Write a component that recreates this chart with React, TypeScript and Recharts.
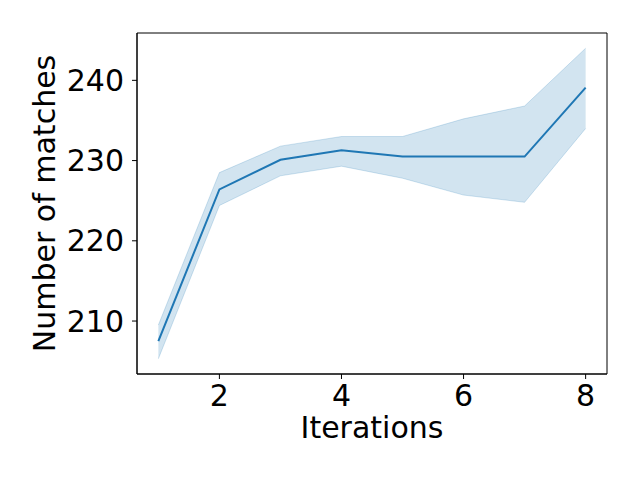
import { ComposedChart, Area, Line, XAxis, YAxis, Label, ReferenceArea } from 'recharts'

const iterations = [1, 2, 3, 4, 5, 6, 7, 8]
const meanMatches = [207.5, 226.4, 230.1, 231.3, 230.5, 230.5, 230.5, 239.1]
const lowerBand = [205.3, 224.4, 228.1, 229.3, 227.8, 225.7, 224.8, 234.0]
const upperBand = [209.5, 228.5, 231.8, 233.0, 233.0, 235.2, 236.8, 244.0]
const xTicks = [2, 4, 6, 8]
const yTicks = [210, 220, 230, 240]

const X_DOMAIN: [number, number] = [0.65, 8.35]
const Y_DOMAIN: [number, number] = [203.4, 245.9]

const BLUE = '#1f77b4'
const FONT = 'DejaVu Sans'
const FS = 30
const tickStyle = { fontSize: FS, fill: '#000', fontFamily: FONT }

const data = iterations.map((it, i) => ({
  it,
  mean: meanMatches[i],
  band: [lowerBand[i], upperBand[i]],
}))

function YTitle({ viewBox }: any) {
  const x = 55
  const cy = viewBox.y + viewBox.height / 2
  return (
    <text
      x={x}
      y={cy}
      transform={`rotate(-90 ${x} ${cy})`}
      textAnchor="middle"
      fontSize={FS}
      fontFamily={FONT}
      fill="#000"
    >
      Number of matches
    </text>
  )
}

export default function App() {
  return (
    <div style={{ position: 'absolute', left: 0, top: 0, width: 640, height: 480, background: '#fff' }}>
      <ComposedChart width={640} height={480} data={data} margin={{ top: 33, right: 33, bottom: 63, left: 57 }}>
        <XAxis
          dataKey="it"
          type="number"
          domain={X_DOMAIN}
          ticks={xTicks}
          allowDataOverflow
          tick={tickStyle}
          tickSize={5}
          tickMargin={6}
          height={43}
          stroke="#000"
        >
          <Label value="Iterations" position="bottom" offset={0} fontSize={FS} fontFamily={FONT} fill="#000" />
        </XAxis>
        <YAxis
          type="number"
          domain={Y_DOMAIN}
          ticks={yTicks}
          allowDataOverflow
          tick={tickStyle}
          tickSize={5}
          tickMargin={8}
          width={80}
          stroke="#000"
        >
          <Label content={<YTitle />} />
        </YAxis>
        <Area
          dataKey="band"
          type="linear"
          fill={BLUE}
          fillOpacity={0.2}
          stroke={BLUE}
          strokeOpacity={0.2}
          strokeWidth={1}
          isAnimationActive={false}
          activeDot={false}
        />
        <Line
          dataKey="mean"
          type="linear"
          stroke={BLUE}
          strokeWidth={2}
          dot={false}
          activeDot={false}
          isAnimationActive={false}
        />
        <ReferenceArea
          x1={X_DOMAIN[0]}
          x2={X_DOMAIN[1]}
          y1={Y_DOMAIN[0]}
          y2={Y_DOMAIN[1]}
          fill="none"
          stroke="#000"
          strokeWidth={1}
          fillOpacity={0}
        />
      </ComposedChart>
    </div>
  )
}
